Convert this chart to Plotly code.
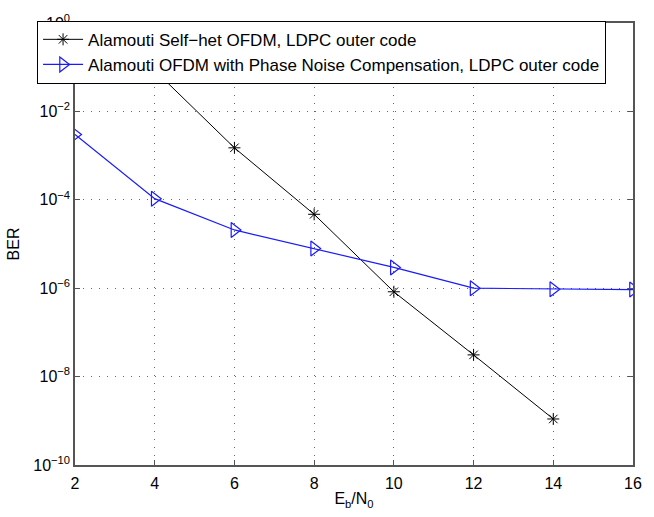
import plotly.graph_objects as go

# Eb/N0 (dB) and BER for both schemes
ebn0_selfhet = [4, 6, 8, 10, 12, 14]
ber_selfhet = [8.5e-2, 1.5e-3, 4.7e-5, 8.3e-7, 3.1e-8, 1.1e-9]

ebn0_pnc = [2, 4, 6, 8, 10, 12, 14, 16]
ber_pnc = [3.0e-3, 1.06e-4, 2.08e-5, 7.9e-6, 2.95e-6, 1.0e-6, 9.5e-7, 9.3e-7]

x_ticks = [2, 4, 6, 8, 10, 12, 14, 16]
y_exponents = [0, -2, -4, -6, -8, -10]

FONT = "Liberation Sans, Arial, sans-serif"

fig = go.Figure()
fig.add_trace(go.Scatter(
    x=ebn0_selfhet, y=ber_selfhet, mode="lines+markers",
    name="Alamouti Self\u2212het OFDM, LDPC outer code",
    line=dict(color="black", width=1),
    marker=dict(symbol="asterisk-open", size=10, color="black",
                line=dict(color="black", width=1)),
))
fig.add_trace(go.Scatter(
    x=ebn0_pnc, y=ber_pnc, mode="lines+markers",
    name="Alamouti OFDM with Phase Noise Compensation, LDPC outer code",
    line=dict(color="#1a1aff", width=1.2),
    marker=dict(symbol="triangle-right-open", size=13, color="#1a1aff",
                line=dict(color="#1a1aff", width=1.2)),
))

axis_common = dict(
    showline=True, linecolor="#555555", linewidth=1.5, mirror="ticks",
    ticks="inside", ticklen=5, tickcolor="#555555",
    showgrid=True, gridcolor="#666666", griddash="1px,7px", gridwidth=1,
    zeroline=False, tickfont=dict(family=FONT, size=16, color="black"),
)

fig.update_layout(
    width=654, height=517,
    margin=dict(l=71, r=12, t=16, b=49),
    paper_bgcolor="white", plot_bgcolor="white",
    font=dict(family=FONT, size=16, color="black"),
    xaxis=dict(
        range=[2, 16], tickvals=x_ticks,
        ticktext=[str(v) for v in x_ticks],
        ticklabelstandoff=3,
        title=dict(text="E<sub>b</sub>/N<sub>0</sub>", standoff=2,
                   font=dict(family=FONT, size=16)),
        **axis_common,
    ),
    yaxis=dict(
        type="log", range=[-10, 0],
        tickvals=[10.0 ** e for e in y_exponents],
        ticktext=["10<sup>%s</sup>" % str(e).replace("-", "\u2212") for e in y_exponents],
        title=dict(text="BER", standoff=10, font=dict(family=FONT, size=16)),
        **axis_common,
    ),
    legend=dict(
        x=-0.068, y=1.005, xanchor="left", yanchor="top",
        bgcolor="white", bordercolor="black", borderwidth=1,
        font=dict(family=FONT, size=17, color="black"),
        tracegroupgap=0, itemwidth=40,
    ),
    showlegend=True,
)

fig.write_html("out.html")
